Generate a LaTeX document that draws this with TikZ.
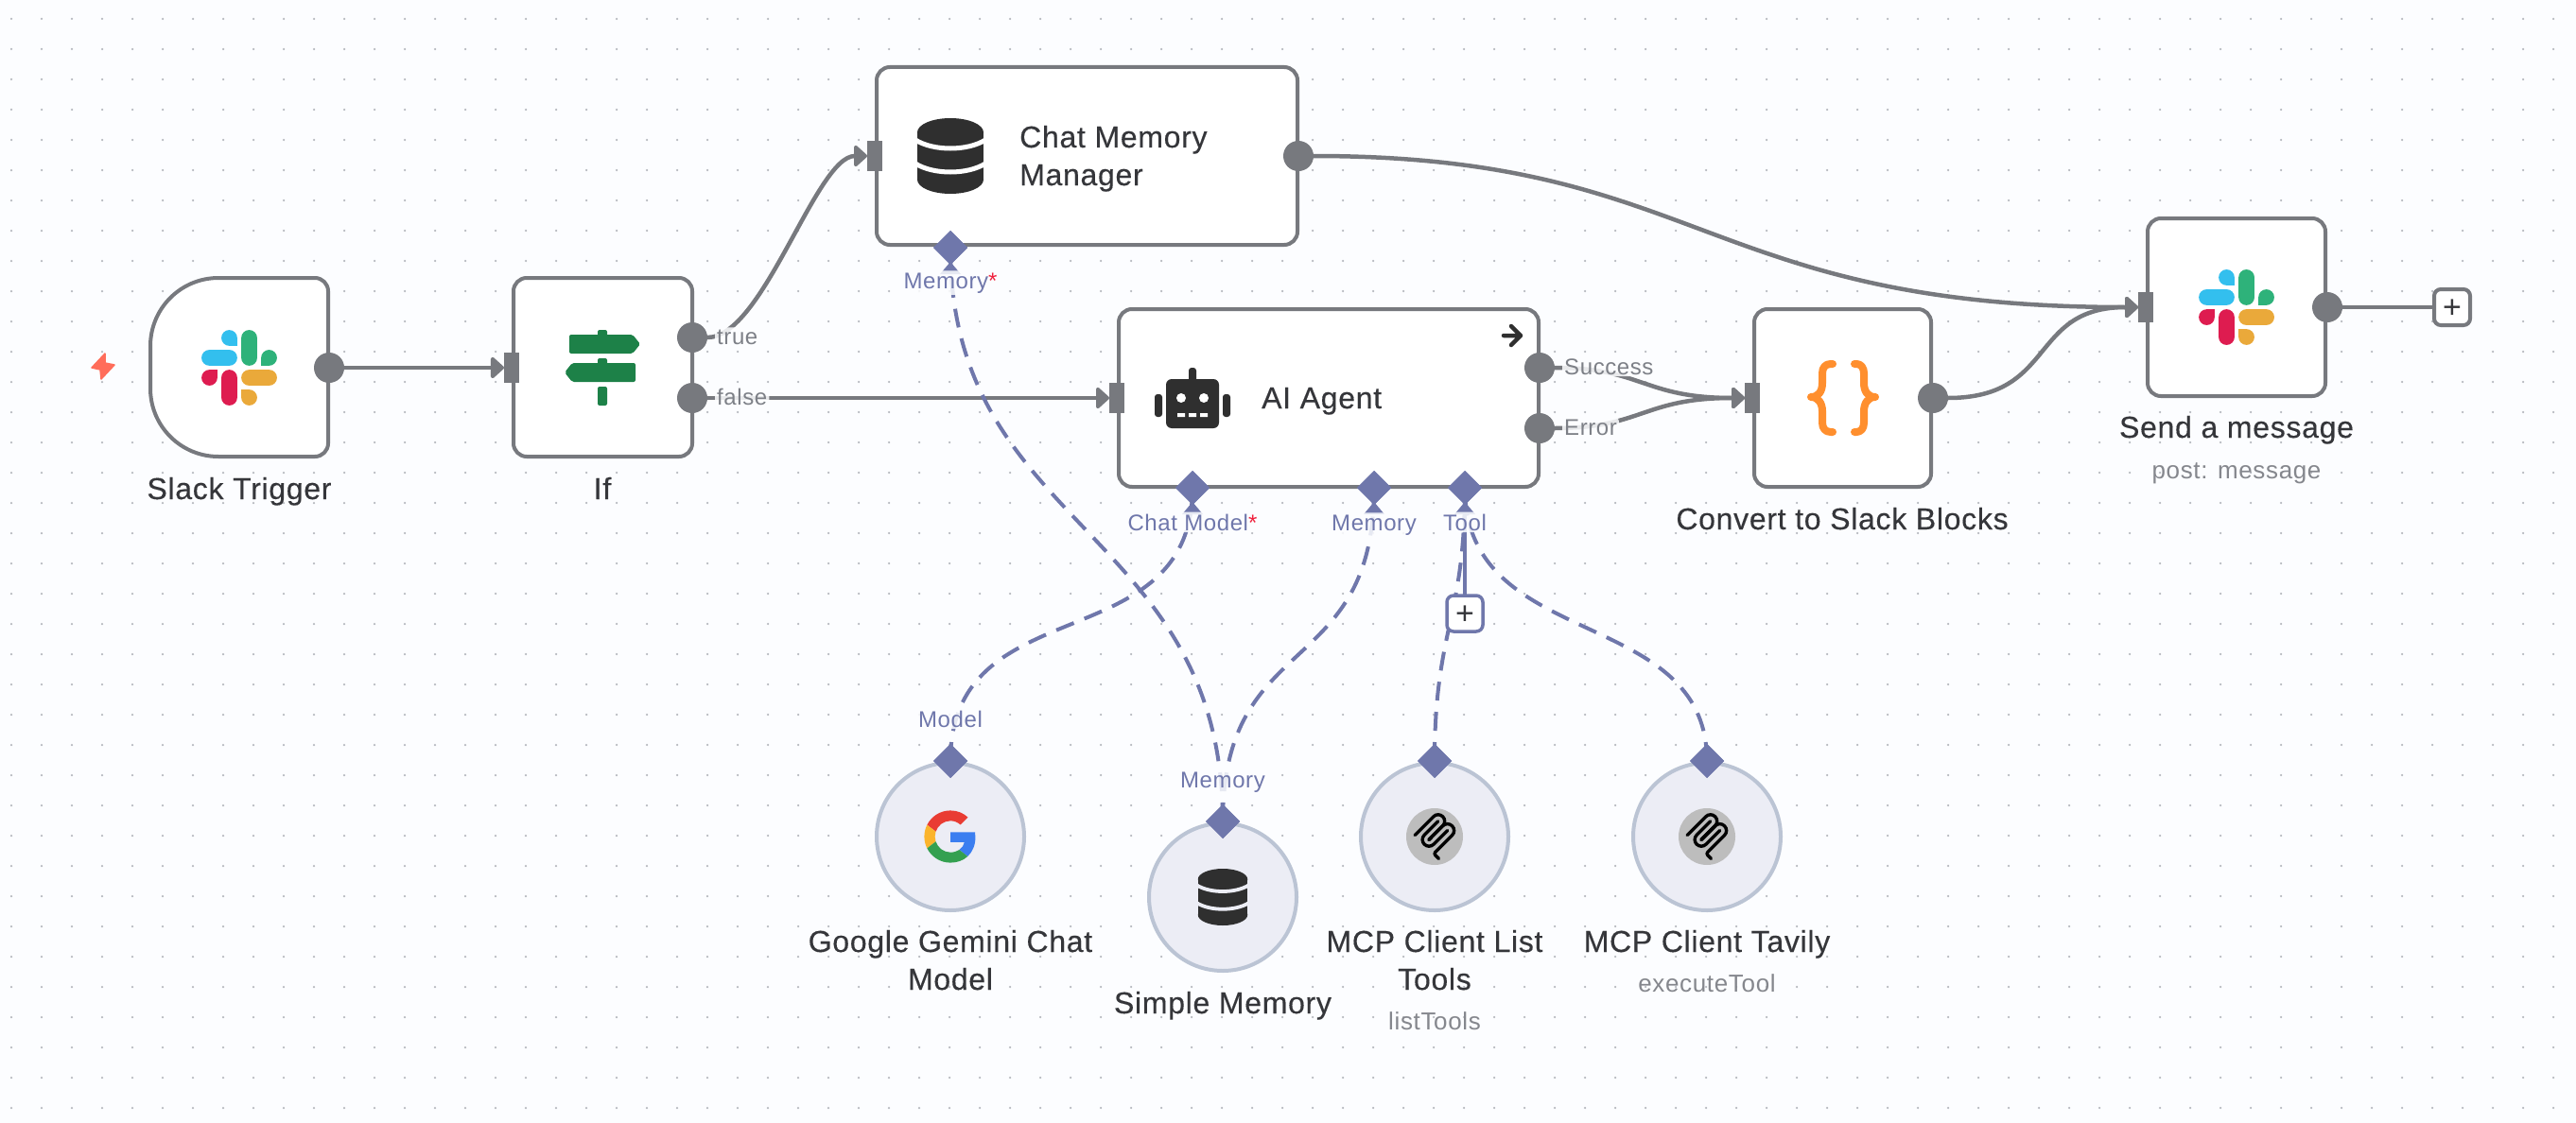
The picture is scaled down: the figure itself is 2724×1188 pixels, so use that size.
\documentclass[tikz,border=0pt]{standalone}
\usepackage{fontspec}
\setmainfont[LetterSpace=2.5]{Liberation Sans}
\newfontfamily\titlefont[LetterSpace=2.2,FakeBold=0.3]{Liberation Sans}
\usetikzlibrary{arrows.meta,shapes.geometric}
\definecolor{pagebg}{HTML}{FCFDFF}
\definecolor{griddot}{HTML}{B4B7BD}
\definecolor{wire}{HTML}{77797E}
\definecolor{aiwire}{HTML}{6F77AB}
\definecolor{inktext}{HTML}{35363A}
\definecolor{subtext}{HTML}{85878D}
\definecolor{portgrey}{HTML}{7D8087}
\definecolor{subfill}{HTML}{ECEDF5}
\definecolor{subline}{HTML}{BBC4D4}
\definecolor{iconink}{HTML}{2F2F2F}
\definecolor{signgreen}{HTML}{1D8148}
\definecolor{bracecol}{HTML}{FF8F2E}
\definecolor{boltcol}{HTML}{FF6D5A}
\definecolor{starcol}{HTML}{F0203C}
\definecolor{slkblue}{HTML}{33BFEE}
\definecolor{slkgreen}{HTML}{2EB27A}
\definecolor{slkred}{HTML}{DE1C50}
\definecolor{slkyellow}{HTML}{EAA93A}
\definecolor{gred}{HTML}{E93C33}
\definecolor{gblue}{HTML}{3B7EF0}
\definecolor{gyellow}{HTML}{FBB42C}
\definecolor{ggreen}{HTML}{34A050}
\tikzset{
  flowbox/.style={draw=wire,line width=4pt,fill=white,rounded corners=14pt,inner sep=0,outer sep=0,anchor=north west},
  subnode/.style={circle,draw=subline,line width=4pt,fill=subfill,minimum size=156pt,inner sep=0,outer sep=0},
  outport/.style={circle,fill=wire,minimum size=32pt,inner sep=0,outer sep=0},
  inport/.style={rectangle,fill=wire,minimum width=16pt,minimum height=32pt,inner sep=0,outer sep=0},
  aiport/.style={diamond,fill=aiwire,minimum size=36pt,inner sep=0,outer sep=0},
  wireline/.style={draw=wire,line width=4.5pt},
  arrowed/.style={wireline,-{Triangle[length=15pt,width=26pt,round]}},
  dashedlink/.style={draw=aiwire,line width=4pt,dash pattern=on 20pt off 12pt},
  solidlink/.style={draw=aiwire,line width=4pt},
  title/.style={font=\titlefont\fontsize{32}{40}\selectfont,text=inktext,anchor=base,align=center,inner sep=0},
  subtitle/.style={font=\fontsize{26}{30}\selectfont,text=subtext,anchor=base,inner sep=0},
  wirelabel/.style={font=\fontsize{24}{28}\selectfont,text=portgrey,anchor=base west,inner sep=2pt,fill=pagebg,fill opacity=.85,text opacity=1,rounded corners=4pt},
  ailabel/.style={font=\fontsize{24}{28}\selectfont,text=aiwire,anchor=base,inner sep=2pt,fill=pagebg,fill opacity=.85,text opacity=1,rounded corners=4pt},
  plusgrey/.style={draw=wire,line width=4pt,fill=white,rounded corners=7pt,minimum size=38pt,inner sep=0,outer sep=0},
  plusblue/.style={plusgrey,draw=aiwire,line width=3.5pt},
  plussign/.style={font=\fontsize{34}{34}\selectfont,text=inktext,inner sep=0,outer sep=0},
}
\newcommand{\slackicon}[2]{%
  \begin{scope}[shift={(#1,#2)},scale=.65,shift={(-62,-62)}]
    \fill[slkred] (13.5,78.2) circle (12.9pt); \fill[slkred] (13.5,65.3) rectangle (26.4,78.2);
    \fill[slkred,rounded corners=8.3pt] (32.9,65.3) rectangle (58.7,123.4);
    \fill[slkblue] (45.8,13.5) circle (12.9pt); \fill[slkblue] (45.8,13.5) rectangle (58.7,26.4);
    \fill[slkblue,rounded corners=8.3pt] (0.6,32.9) rectangle (58.7,58.7);
    \fill[slkgreen] (110.5,45.8) circle (12.9pt); \fill[slkgreen] (97.6,45.8) rectangle (110.5,58.7);
    \fill[slkgreen,rounded corners=8.3pt] (65.3,0.6) rectangle (91.1,58.7);
    \fill[slkyellow] (78.2,110.5) circle (12.9pt); \fill[slkyellow] (65.3,97.6) rectangle (78.2,110.5);
    \fill[slkyellow,rounded corners=8.3pt] (65.3,65.3) rectangle (123.4,91.1);
  \end{scope}}
% #1 x, #2 y, #3 scale, #4 colour of the gaps, #5 gap width
\newcommand{\dbicon}[5]{%
  \begin{scope}[shift={(#1,#2)},scale=#3]
    \fill[iconink] (-35,-25) -- (35,-25) -- (35,25) -- (-35,25) -- cycle;
    \fill[iconink] (0,-25) ellipse (35pt and 15pt);
    \fill[iconink] (0,25) ellipse (35pt and 15pt);
    \draw[#4,line width=#5] (-37,-17) .. controls (-18,-5) and (18,-5) .. (37,-17);
    \draw[#4,line width=#5] (-37,8) .. controls (-18,20) and (18,20) .. (37,8);
  \end{scope}}
\newcommand{\mcpicon}[2]{%
  \fill[black!26] (#1,#2) circle (30pt);
  \begin{scope}[shift={(#1,#2)},scale=.29,shift={(-90,-90)},line width=3.4pt,line cap=round,draw=black]
    \draw (18,84.85) -- (85.88,16.97) .. controls (95.25,7.6) and (110.45,7.6) .. (119.82,16.97) .. controls (129.2,26.34) and (129.2,41.54) .. (119.82,50.91) -- (68.56,102.18);
    \draw (69.27,101.47) -- (119.82,50.91) .. controls (129.2,41.54) and (144.39,41.54) .. (153.77,50.91) -- (154.12,51.27) .. controls (163.49,60.64) and (163.49,75.83) .. (154.12,85.21) -- (92.72,146.6) .. controls (89.6,149.72) and (89.6,154.79) .. (92.72,157.91) -- (105.33,170.52);
    \draw (102.85,33.94) -- (52.65,84.15) .. controls (43.28,93.52) and (43.28,108.71) .. (52.65,118.09) .. controls (62.02,127.46) and (77.22,127.46) .. (86.59,118.09) -- (136.79,67.88);
  \end{scope}}
\begin{document}
\begin{tikzpicture}[x=1pt,y=-1pt]
\useasboundingbox (0,0) rectangle (2724,1188);
\fill[pagebg] (0,0) rectangle (2724,1188);
\foreach \gx in {12,44,...,2716} \foreach \gy in {20,52,...,1180} \fill[griddot] (\gx,\gy) circle (1.25pt);

% ---------- boxes
\draw[draw=wire,line width=4pt,fill=white] (347,388) [rounded corners=14pt] -- (347,294) [rounded corners=72pt] -- (159,294) -- (159,483) [rounded corners=14pt] -- (347,483) -- cycle;
\node[flowbox,minimum width=189pt,minimum height=189pt] (ifbox) at (543,294) {};
\node[flowbox,minimum width=445pt,minimum height=188pt] (cmm) at (927,71) {};
\node[flowbox,minimum width=444pt,minimum height=188pt] (agent) at (1183,327) {};
\node[flowbox,minimum width=187pt,minimum height=188pt] (conv) at (1855,327) {};
\node[flowbox,minimum width=188pt,minimum height=188pt] (send) at (2271,231) {};

\node[subnode] (gem) at (1005,885) {};
\node[subnode] (mem) at (1293,949) {};
\node[subnode] (mcpa) at (1517,885) {};
\node[subnode] (mcpb) at (1805,885) {};

% ---------- ports
\node[outport] (stout) at (348,389) {};
\node[inport] (ifin) at (541,389) {};
\node[outport] (iftrue) at (732,357) {};
\node[outport] (iffalse) at (732,421) {};
\node[inport] (cmmin) at (925,165) {};
\node[outport] (cmmout) at (1373,165) {};
\node[inport] (agin) at (1181,421) {};
\node[outport] (agok) at (1628,389) {};
\node[outport] (agerr) at (1628,453) {};
\node[inport] (convin) at (1853,421) {};
\node[outport] (convout) at (2044,421) {};
\node[inport] (sendin) at (2269,325) {};
\node[outport] (sendout) at (2461,325) {};
\node[plusgrey] (sendplus) at (2593,325) {};

\node[aiport] (cmmmem) at (1005,262) {};
\node[aiport] (agmodel) at (1261,516) {};
\node[aiport] (agmem) at (1453,516) {};
\node[aiport] (agtool) at (1549,516) {};
\node[aiport] (gemtop) at (1005,805) {};
\node[aiport] (memtop) at (1293,869) {};
\node[aiport] (mcpatop) at (1517,805) {};
\node[aiport] (mcpbtop) at (1805,805) {};

% ---------- wires
\draw[arrowed] (stout.east) -- (ifin.west);
\draw[arrowed] (iftrue.east) .. controls (807,357) and (863,165) .. (cmmin.west);
\draw[arrowed] (iffalse.east) -- (agin.west);
\draw[arrowed] (cmmout.east) .. controls (1800,165) and (1800,325) .. (sendin.west);
\draw[arrowed] (agok.east) .. controls (1737,389) and (1737,421) .. (convin.west);
\draw[arrowed] (agerr.east) .. controls (1737,453) and (1737,421) .. (convin.west);
\draw[arrowed] (convout.east) .. controls (2175,421) and (2145,325) .. (sendin.west);
\draw[wireline] (sendout.east) -- (sendplus.west);

% ---------- sub-node links
\draw[dashedlink] (memtop.center) .. controls (1293,560) and (1005,560) .. (cmmmem.center);
\draw[dashedlink] (gemtop.center) .. controls (1005,620) and (1261,700) .. (agmodel.center);
\draw[dashedlink] (memtop.center) .. controls (1293,665) and (1453,720) .. (agmem.center);
\draw[dashedlink] (mcpatop.center) .. controls (1517,665) and (1549,655) .. (agtool.center);
\draw[dashedlink] (mcpbtop.center) .. controls (1805,640) and (1549,690) .. (agtool.center);
\node[plusblue] (toolplus) at (1549,649) {};
\draw[solidlink] (agtool.center) -- (toolplus.north);

% ---------- diamonds on top of links, with the little tips under the output ones
\foreach \p in {cmmmem,agmodel,agmem,agtool,gemtop,memtop,mcpatop,mcpbtop} \fill[aiwire] (\p.north) -- (\p.east) -- (\p.south) -- (\p.west) -- cycle;
\foreach \p in {cmmmem,agmodel,agmem,agtool} \fill[aiwire] ([yshift=3pt]\p.south) -- ([xshift=11pt,yshift=-10pt]\p.south) -- ([xshift=-11pt,yshift=-10pt]\p.south) -- cycle;

% ---------- plus signs
\node[plussign] (sendplussign) at (2593,327) {+};
\node[plussign] (toolplussign) at (1549,651) {+};

% ---------- icons
\fill[boltcol,draw=boltcol,line width=1.5pt,line join=round] (111,374) -- (97,389) -- (106,391) -- (107,401) -- (121,386) -- (111,384) -- cycle;
\slackicon{253}{389}
\slackicon{2365}{325}
\fill[signgreen,rounded corners=2pt] (632,349) rectangle (642,356);
\fill[signgreen,rounded corners=2pt] (632,379) rectangle (642,386);
\fill[signgreen,rounded corners=2pt] (632,409) rectangle (642,429);
\fill[signgreen,rounded corners=2pt] (602,354) -- (669,354) -- (677,364) -- (669,374) -- (602,374) -- cycle;
\fill[signgreen,rounded corners=2pt] (672,384) -- (605,384) -- (597,394) -- (605,404) -- (672,404) -- cycle;
\dbicon{1005}{165}{1}{white}{5pt}
\dbicon{1293}{949}{.75}{subfill}{3.8pt}
% robot
\fill[iconink,rounded corners=6pt] (1233,401) rectangle (1289,453);
\fill[iconink,rounded corners=3pt] (1257,389) rectangle (1265,404);
\fill[iconink,rounded corners=3pt] (1221,417) rectangle (1229,441);
\fill[iconink,rounded corners=3pt] (1293,417) rectangle (1301,441);
\fill[white] (1249,421) circle (5pt) (1273,421) circle (5pt);
\fill[white] (1245,437) rectangle (1253,441) (1257,437) rectangle (1265,441) (1269,437) rectangle (1277,441);
\draw[iconink,line width=4.5pt,line cap=round,line join=round] (1590,355) -- (1608,355) (1598,345) -- (1608,355) -- (1598,365);
% braces
\begin{scope}[draw=bracecol,line width=8pt,line cap=round,line join=round]
  \draw (1938,385) -- (1936,385) .. controls (1930,385) and (1927,389) .. (1927,395) -- (1927,405) .. controls (1927,414) and (1923,420) .. (1915,420) .. controls (1923,420) and (1927,427) .. (1927,435) -- (1927,447) .. controls (1927,453) and (1930,457) .. (1936,457) -- (1938,457);
  \draw (1961,385) -- (1963,385) .. controls (1968,385) and (1971,389) .. (1971,395) -- (1971,405) .. controls (1971,414) and (1975,420) .. (1983,420) .. controls (1975,420) and (1971,427) .. (1971,435) -- (1971,447) .. controls (1971,453) and (1968,457) .. (1963,457) -- (1961,457);
\end{scope}
% google G
\begin{scope}[shift={(1005,885)},scale=1.15,shift={(-24,-24)}]
  \fill[gred] (24,9.5) .. controls (27.54,9.5) and (30.71,10.72) .. (33.21,13.1) -- (40.06,6.25) .. controls (35.9,2.38) and (30.47,0) .. (24,0) .. controls (14.62,0) and (6.51,5.38) .. (2.56,13.22) -- (10.54,19.41) .. controls (12.43,13.72) and (17.74,9.5) .. (24,9.5) -- cycle;
  \fill[gblue] (46.98,24.55) .. controls (46.98,22.98) and (46.83,21.46) .. (46.6,20) -- (24,20) -- (24,29.02) -- (36.94,29.02) .. controls (36.36,31.98) and (34.68,34.5) .. (32.16,36.2) -- (39.89,42.2) .. controls (44.4,38.02) and (46.98,31.84) .. (46.98,24.55) -- cycle;
  \fill[gyellow] (10.53,28.59) .. controls (10.05,27.14) and (9.77,25.6) .. (9.77,24) .. controls (9.77,22.4) and (10.04,20.86) .. (10.53,19.41) -- (2.55,13.22) .. controls (0.92,16.46) and (0,20.12) .. (0,24) .. controls (0,27.88) and (0.92,31.54) .. (2.56,34.78) -- cycle;
  \fill[ggreen] (24,48) .. controls (30.48,48) and (35.93,45.87) .. (39.89,42.19) -- (32.16,36.19) .. controls (30.01,37.64) and (27.24,38.49) .. (24,38.49) .. controls (17.74,38.49) and (12.43,34.27) .. (10.53,28.58) -- (2.55,34.77) .. controls (6.51,42.62) and (14.62,48) .. (24,48) -- cycle;
\end{scope}
\mcpicon{1517}{885}
\mcpicon{1805}{885}

% ---------- wire labels
\node[wirelabel] (ltrue) at (756,364) {true};
\node[wirelabel] (lfalse) at (756,428) {false};
\node[wirelabel] (lok) at (1652,396) {Success};
\node[wirelabel] (lerr) at (1652,460) {Error};
\node[ailabel] (lm1) at (1005,305) {Memory\textcolor{starcol}{*}};
\node[ailabel] (lm2) at (1261,561) {Chat Model\textcolor{starcol}{*}};
\node[ailabel] (lm3) at (1453,561) {Memory};
\node[ailabel] (lm4) at (1549,561) {Tool};
\node[ailabel] (lm5) at (1005,769) {Model};
\node[ailabel] (lm6) at (1293,833) {Memory};

% ---------- titles (the base of a two-line title is its last line)
\node[title] (t1) at (253,528) {Slack Trigger};
\node[title] (t2) at (637,528) {If};
\node[title,align=left,anchor=base west] (t3) at (1078,196) {Chat Memory\\Manager};
\node[title,anchor=base west] (t4) at (1334,432) {AI Agent};
\node[title] (t5) at (1948,560) {Convert to Slack Blocks};
\node[title] (t6) at (2365,463) {Send a message};
\node[subtitle] (t7) at (2365,506) {post: message};
\node[title] (t8) at (1005,1047) {Google Gemini Chat\\Model};
\node[title] (t9) at (1293,1072) {Simple Memory};
\node[title] (t10) at (1517,1047) {MCP Client List\\Tools};
\node[subtitle] (t11) at (1517,1089) {listTools};
\node[title] (t12) at (1805,1007) {MCP Client Tavily};
\node[subtitle] (t13) at (1805,1049) {executeTool};
\end{tikzpicture}
\end{document}
